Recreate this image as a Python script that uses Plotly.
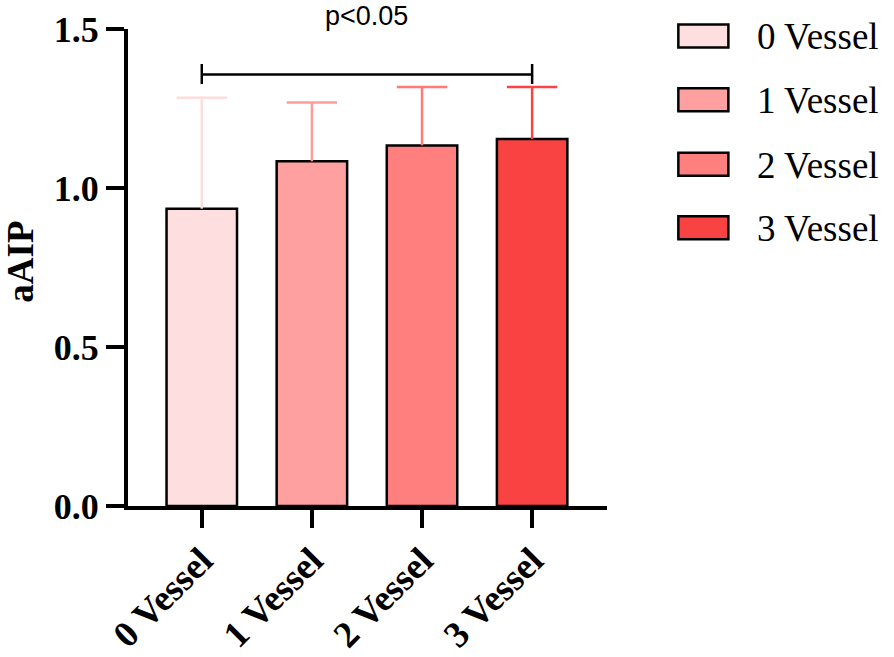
import plotly.graph_objects as go

# ---- data ----
categories = ["0 Vessel", "1 Vessel", "2 Vessel", "3 Vessel"]
means = [0.935, 1.084, 1.134, 1.154]
sd_upper = [0.349, 0.185, 0.184, 0.164]
bar_colors = ["#FFDEDF", "#FFA0A0", "#FF7F7F", "#F94242"]
err_colors = ["#FFDCDE", "#FF9C9C", "#FF7A7A", "#F84444"]
y_ticks = [0.0, 0.5, 1.0, 1.5]
y_tick_labels = ["0.0", "0.5", "1.0", "1.5"]
sig_label = "p<0.05"
sig_level = 1.357
y_title = "aAIP"

W, H = 894, 657
L = 128
T = 29.3
R = W - 606.7
B = H - 506.3
PW, PH = W - L - R, H - T - B

def px_x(px):
    return (px - L) / PW

def px_y(py):
    return 1 - (py - T) / PH

fig = go.Figure()
for i, c in enumerate(categories):
    fig.add_trace(go.Bar(
        x=[c], y=[means[i]], name=c, width=0.64,
        marker=dict(color=bar_colors[i], line=dict(color="black", width=2.5)),
        error_y=dict(type="data", symmetric=False, array=[sd_upper[i]], arrayminus=[0],
                     color=err_colors[i], thickness=2.5, width=0),
        showlegend=False,
    ))
    # error bar cap
    fig.add_trace(go.Scatter(
        x=[c], y=[means[i] + sd_upper[i]], mode="markers",
        marker=dict(symbol="line-ew", size=36, line=dict(color=err_colors[i], width=2.5)),
        showlegend=False, hoverinfo="skip",
    ))

shapes = []
# significance bracket
shapes.append(dict(type="line", xref="x", yref="y", x0=0, x1=3, y0=sig_level, y1=sig_level,
                   line=dict(color="black", width=2.5)))
for xx in (0, 3):
    shapes.append(dict(type="line", xref="x", yref="y", x0=xx, x1=xx, y0=sig_level - 0.03, y1=sig_level + 0.033,
                       line=dict(color="black", width=2.5)))

annotations = [dict(text=sig_label, xref="x", yref="paper", x=1.5, y=px_y(16), showarrow=False,
                    xanchor="center", yanchor="middle",
                    font=dict(family="Liberation Sans", size=27, color="black"))]

# custom legend
legend_y = [36.3, 100, 164.5, 228]
for i, c in enumerate(categories):
    cy = legend_y[i]
    shapes.append(dict(type="rect", xref="paper", yref="paper",
                       x0=px_x(678), x1=px_x(728), y0=px_y(cy + 11.5), y1=px_y(cy - 11.5),
                       fillcolor=bar_colors[i], line=dict(color="black", width=2.5)))
    annotations.append(dict(text=c, xref="paper", yref="paper", x=px_x(755), y=px_y(cy + 1),
                            showarrow=False, xanchor="left", yanchor="middle",
                            font=dict(family="Liberation Serif", size=37, color="black")))

# y-axis title
annotations.append(dict(text="<b>" + y_title + "</b>", xref="paper", yref="paper",
                        x=px_x(21), y=px_y(262), showarrow=False, textangle=-90,
                        xanchor="center", yanchor="middle",
                        font=dict(family="Liberation Serif", size=37, color="black")))

fig.update_layout(
    width=W, height=H,
    margin=dict(l=L, r=R, t=T, b=B, autoexpand=False),
    paper_bgcolor="white", plot_bgcolor="white",
    barmode="overlay",
    shapes=shapes, annotations=annotations,
    xaxis=dict(type="category", categoryorder="array", categoryarray=categories,
               range=[-0.67, 3.68], showline=True, linecolor="black", linewidth=4,
               ticks="outside", ticklen=18, tickwidth=4, tickcolor="black",
               tickangle=-45, showgrid=False, zeroline=False, ticklabelstandoff=-4,
               tickfont=dict(family="Liberation Serif", size=37, color="black", weight="bold")),
    yaxis=dict(range=[0, 1.5], tickvals=y_ticks, ticktext=y_tick_labels,
               showline=True, linecolor="black", linewidth=4,
               ticks="outside", ticklen=18, tickwidth=4, tickcolor="black",
               showgrid=False, zeroline=False,
               tickfont=dict(family="Liberation Serif", size=36, color="black", weight="bold")),
)

fig.write_html("out.html", config={"displayModeBar": False},
               post_script="document.body.style.margin='0';document.body.style.overflow='hidden';")
